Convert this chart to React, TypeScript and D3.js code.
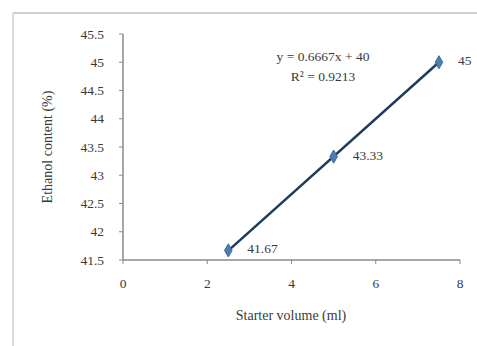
import React from "react";
import * as d3 from "d3";

const starterVolume = [2.5, 5, 7.5];
const ethanolContent = [41.67, 43.33, 45];
const pointLabels = ["41.67", "43.33", "45"];
const xTicks = [0, 2, 4, 6, 8];
const yTicks = [41.5, 42, 42.5, 43, 43.5, 44, 44.5, 45, 45.5];
const trendSlope = 0.6667;
const trendIntercept = 40;

const App = () => {
  const width = 477;
  const height = 346;
  const x = d3.scaleLinear().domain([0, 8]).range([123, 460]);
  const y = d3.scaleLinear().domain([41.5, 45.5]).range([260, 34]);

  const pts = starterVolume.map((v, i) => [x(v), y(ethanolContent[i])] as [number, number]);
  const trend = d3.line()([
    [x(2.5), y(trendSlope * 2.5 + trendIntercept)],
    [x(7.5), y(trendSlope * 7.5 + trendIntercept)],
  ]);
  const font = "'Liberation Serif', 'Times New Roman', serif";
  const txt = "#3a3a3a";
  const axisCol = "#8a8a8a";

  return (
    <svg
      width={width}
      height={height}
      style={{ position: "absolute", left: 0, top: 0, background: "#fff" }}
      fontFamily={font}
    >
      {/* outer frame */}
      <line x1={13} y1={13} x2={477} y2={13} stroke="#cfcfcf" strokeWidth={2} />
      <line x1={13} y1={13} x2={13} y2={346} stroke="#cfcfcf" strokeWidth={1.5} />

      {/* axes */}
      <line x1={x(0)} y1={y(45.5)} x2={x(0)} y2={y(41.5)} stroke={axisCol} strokeWidth={1.5} />
      <line x1={x(0)} y1={y(41.5)} x2={x(8)} y2={y(41.5)} stroke={axisCol} strokeWidth={1.5} />
      {yTicks.map((t) => (
        <g key={"y" + t}>
          <line x1={x(0) - 4} x2={x(0)} y1={y(t)} y2={y(t)} stroke={axisCol} />
          <text x={x(0) - 19} y={y(t) + 4.5} textAnchor="end" fontSize={13.5} fill={txt}>
            {t}
          </text>
        </g>
      ))}
      {xTicks.map((t) => (
        <g key={"x" + t}>
          <line x1={x(t)} x2={x(t)} y1={y(41.5)} y2={y(41.5) + 4} stroke={axisCol} />
          <text x={x(t)} y={y(41.5) + 28} textAnchor="middle" fontSize={13.5} fill={txt}>
            {t}
          </text>
        </g>
      ))}

      {/* trendline */}
      <path d={trend ?? ""} stroke="#1f3b5c" strokeWidth={2.5} fill="none" />

      {/* markers */}
      {pts.map(([px, py], i) => (
        <path
          key={"m" + i}
          d={d3.symbol(d3.symbolDiamond, 50)() ?? ""}
          transform={`translate(${px},${py})`}
          fill="#4a7fb5"
          stroke="#3b6a9c"
        />
      ))}

      {/* data labels */}
      {pts.map(([px, py], i) => (
        <text key={"l" + i} x={px + 19} y={py + 3} fontSize={13.5} fill={txt}>
          {pointLabels[i]}
        </text>
      ))}

      {/* equation */}
      <text x={323} y={61} textAnchor="middle" fontSize={13.5} fill={txt}>
        y = 0.6667x + 40
      </text>
      <text x={323} y={81} textAnchor="middle" fontSize={13.5} fill={txt}>
        R² = 0.9213
      </text>

      {/* titles */}
      <text x={291} y={320} textAnchor="middle" fontSize={14} fill={txt}>
        Starter volume (ml)
      </text>
      <text
        transform={`translate(52,${(y(41.5) + y(45.5)) / 2}) rotate(-90)`}
        textAnchor="middle"
        fontSize={14}
        fill={txt}
      >
        Ethanol content (%)
      </text>
    </svg>
  );
};

export default App;
